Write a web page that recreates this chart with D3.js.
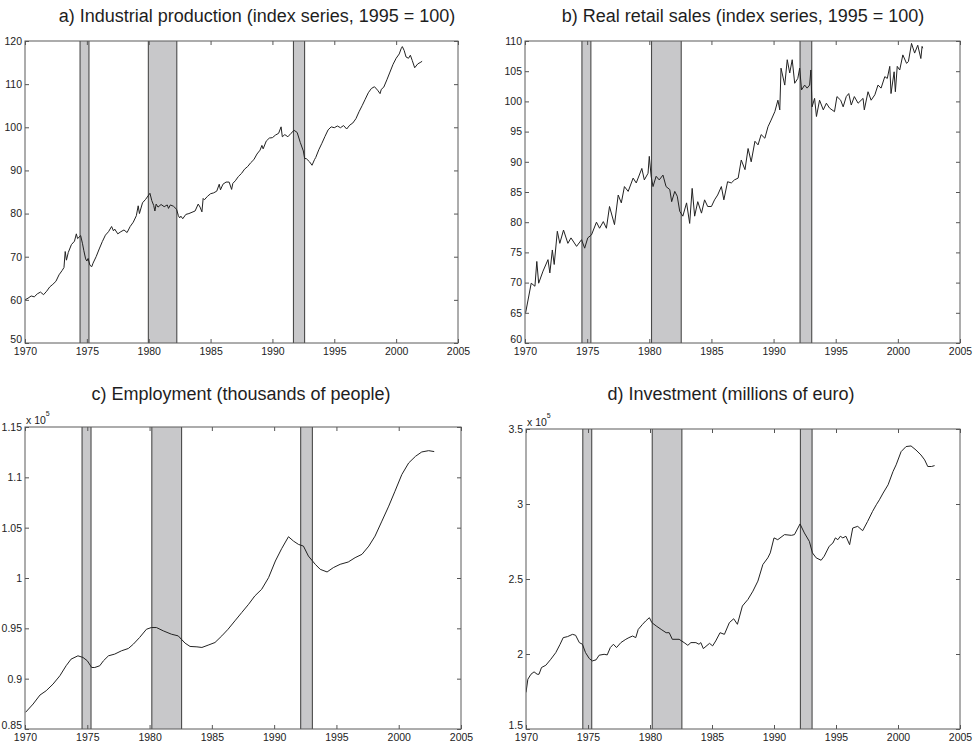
<!DOCTYPE html>
<html><head><meta charset="utf-8">
<script src="https://cdn.jsdelivr.net/npm/d3@7"></script>
<style>
body{margin:0;background:#fff;}
svg{display:block;font-family:"Liberation Sans",Arial,sans-serif;}
.tick text{font-size:10.5px;fill:#222;}
</style></head>
<body><svg id="c" width="976" height="746"></svg>
<script>
// ---------- data ----------
const xTicks = [1970,1975,1980,1985,1990,1995,2000,2005];
const yTicksA = [50,60,70,80,90,100,110,120];
const yTicksB = [60,65,70,75,80,85,90,95,100,105,110];
const yTicksC = [0.85,0.9,0.95,1,1.05,1.1,1.15];
const yTicksD = [1.5,2,2.5,3,3.5];

const bandsA = [[1974.45,1975.17],[1979.97,1982.27],[1991.7,1992.6]];
const bandsOther = [[1974.58,1975.3],[1980.18,1982.57],[1992.13,1993.07]];

const titles = ["a) Industrial production (index series, 1995 = 100)",
  "b) Real retail sales (index series, 1995 = 100)",
  "c) Employment (thousands of people)",
  "d) Investment (millions of euro)"];

const industrialProduction = [
[1970.00,60.0],[1970.25,60.4],[1970.50,60.9],[1970.75,60.7],[1971.00,61.4],[1971.25,61.8],[1971.50,61.2],[1971.75,62.0],
[1972.00,63.0],[1972.25,63.6],[1972.50,64.3],[1972.75,65.8],[1973.00,66.8],[1973.15,67.5],[1973.25,71.2],[1973.35,69.2],
[1973.50,71.0],[1973.75,72.8],[1974.00,73.6],[1974.15,75.3],[1974.25,74.2],[1974.50,74.9],[1974.65,73.0],[1974.75,71.5],
[1974.90,69.5],[1975.00,69.0],[1975.10,69.6],[1975.25,68.0],[1975.40,67.7],[1975.50,68.5],[1975.75,70.0],[1976.00,71.8],
[1976.25,73.5],[1976.50,75.0],[1976.75,75.8],[1977.00,77.0],[1977.15,76.0],[1977.25,76.4],[1977.50,75.3],[1977.75,75.8],
[1978.00,76.2],[1978.25,75.6],[1978.50,77.0],[1978.75,78.0],[1979.00,79.5],[1979.15,81.8],[1979.25,80.0],[1979.50,82.5],
[1979.75,83.3],[1980.00,84.3],[1980.10,84.7],[1980.25,83.0],[1980.40,81.9],[1980.50,80.6],[1980.60,82.2],[1980.75,81.5],
[1981.00,82.1],[1981.25,81.6],[1981.50,82.0],[1981.60,81.2],[1981.75,82.0],[1982.00,81.7],[1982.25,81.0],[1982.40,79.5],
[1982.50,79.0],[1982.60,79.4],[1982.75,78.8],[1983.00,79.8],[1983.25,80.0],[1983.50,80.3],[1983.75,80.6],[1984.00,82.2],
[1984.15,81.5],[1984.30,80.4],[1984.40,83.5],[1984.50,83.2],[1984.75,84.0],[1985.00,84.6],[1985.25,84.8],[1985.50,85.2],
[1985.70,86.8],[1985.80,85.5],[1986.00,86.8],[1986.25,87.3],[1986.50,87.3],[1986.70,85.6],[1986.80,87.0],[1987.00,87.6],
[1987.25,88.6],[1987.50,89.3],[1987.75,90.3],[1988.00,90.9],[1988.25,91.8],[1988.50,92.5],[1988.75,93.8],[1989.00,94.7],
[1989.15,95.8],[1989.25,95.0],[1989.50,96.8],[1989.75,97.5],[1990.00,97.6],[1990.25,98.2],[1990.50,98.6],[1990.70,100.1],
[1990.80,97.8],[1991.00,98.3],[1991.25,97.8],[1991.50,98.6],[1991.75,99.3],[1992.00,98.8],[1992.25,96.5],[1992.50,94.5],
[1992.60,92.8],[1992.75,92.7],[1993.00,92.0],[1993.20,91.2],[1993.40,92.5],[1993.50,93.0],[1993.75,94.8],[1994.00,96.3],
[1994.25,97.9],[1994.50,99.4],[1994.75,100.1],[1995.00,99.9],[1995.25,100.3],[1995.50,99.9],[1995.75,100.4],[1996.00,99.6],
[1996.25,100.5],[1996.50,101.0],[1996.75,102.0],[1997.00,103.6],[1997.25,105.0],[1997.50,106.5],[1997.75,108.0],[1998.00,109.0],
[1998.25,109.4],[1998.50,108.6],[1998.70,107.8],[1998.80,108.8],[1999.00,109.3],[1999.25,111.0],[1999.50,112.8],[1999.75,114.6],
[2000.00,116.0],[2000.25,117.0],[2000.40,118.2],[2000.50,118.7],[2000.65,117.8],[2000.80,116.3],[2001.00,116.0],[2001.15,116.7],
[2001.30,115.5],[2001.50,113.8],[2001.75,114.7],[2002.00,115.1],[2002.10,115.3]];

const retailSales = [
[1970.05,65.0],[1970.5,69.9],[1970.8,69.4],[1970.95,73.5],[1971.1,69.9],[1971.45,71.9],[1971.85,73.8],[1972.0,71.6],
[1972.2,75.4],[1972.35,73.0],[1972.6,78.5],[1972.8,76.5],[1973.1,78.7],[1973.45,76.5],[1973.7,77.4],[1974.15,76.0],
[1974.55,77.1],[1974.8,75.7],[1975.05,77.4],[1975.35,77.9],[1975.75,80.0],[1976.0,79.0],[1976.3,80.1],[1976.55,79.0],
[1976.8,82.6],[1977.2,79.6],[1977.5,84.5],[1977.75,83.2],[1978.0,85.9],[1978.3,85.1],[1978.7,87.3],[1978.95,86.5],
[1979.4,88.9],[1979.6,87.0],[1979.9,88.1],[1980.0,90.9],[1980.15,87.6],[1980.3,85.9],[1980.55,87.6],[1980.8,87.0],
[1981.1,87.8],[1981.35,85.9],[1981.65,85.4],[1981.8,83.4],[1982.05,85.1],[1982.25,84.3],[1982.45,81.8],[1982.7,81.0],
[1983.0,83.2],[1983.25,79.8],[1983.45,85.6],[1983.65,81.0],[1983.9,83.4],[1984.2,81.5],[1984.45,83.7],[1984.7,82.6],
[1985.0,82.6],[1985.25,83.7],[1985.5,84.5],[1985.8,85.9],[1986.0,83.7],[1986.3,86.7],[1986.6,86.5],[1986.85,87.0],
[1987.15,87.3],[1987.4,90.3],[1987.7,88.7],[1987.95,92.2],[1988.2,90.0],[1988.5,93.4],[1988.75,92.8],[1989.0,94.5],
[1989.3,93.9],[1989.55,95.8],[1989.8,96.9],[1990.1,98.3],[1990.35,100.2],[1990.5,98.6],[1990.6,105.5],[1990.9,102.7],
[1991.1,106.9],[1991.3,104.7],[1991.5,106.9],[1991.7,103.0],[1991.95,103.8],[1992.1,105.5],[1992.25,101.9],[1992.5,102.7],
[1992.7,102.2],[1992.9,102.7],[1993.0,105.2],[1993.1,99.1],[1993.3,100.5],[1993.45,97.5],[1993.7,100.2],[1994.0,98.6],
[1994.25,99.7],[1994.5,98.9],[1994.9,98.3],[1995.1,100.8],[1995.4,100.2],[1995.6,99.1],[1995.85,100.8],[1996.05,101.3],
[1996.25,99.4],[1996.5,100.8],[1996.8,99.7],[1997.2,100.5],[1997.3,98.6],[1997.6,101.6],[1997.85,100.2],[1998.15,101.1],
[1998.4,102.7],[1998.65,102.2],[1998.95,104.1],[1999.15,103.8],[1999.35,105.8],[1999.45,101.3],[1999.7,104.9],[1999.8,101.6],
[1999.95,105.8],[2000.15,105.2],[2000.4,107.7],[2000.7,106.3],[2000.85,106.6],[2001.1,109.6],[2001.35,108.0],[2001.6,109.3],
[2001.85,107.1],[2001.95,109.1],[2002.0,108.8]];

const employment = [
[1970.05,86660],[1970.65,87480],[1971.2,88370],[1971.7,88800],[1972.25,89460],[1972.8,90290],[1973.3,91280],[1973.7,91940],
[1974.25,92270],[1974.65,92110],[1975.0,91780],[1975.35,91110],[1975.6,91110],[1976.0,91280],[1976.3,91780],[1976.7,92270],
[1977.2,92440],[1977.75,92770],[1978.3,93000],[1978.7,93430],[1979.2,94090],[1979.75,94910],[1980.15,95080],[1980.55,95080],
[1981.1,94750],[1981.75,94420],[1982.3,94250],[1982.85,93530],[1983.25,93200],[1983.8,93160],[1984.2,93100],[1984.7,93330],
[1985.25,93590],[1985.8,94250],[1986.3,94910],[1986.85,95740],[1987.4,96570],[1987.95,97390],[1988.45,98220],[1989.0,98880],
[1989.55,100030],[1990.1,101690],[1990.6,102910],[1991.15,104100],[1991.55,103670],[1991.95,103340],[1992.35,103170],[1992.75,102180],
[1993.3,101360],[1993.7,100860],[1994.25,100600],[1994.75,101030],[1995.3,101360],[1995.95,101590],[1996.5,102020],[1997.05,102350],
[1997.6,103170],[1998.1,104160],[1998.65,105650],[1999.2,107140],[1999.7,108620],[2000.25,110280],[2000.8,111430],[2001.35,112090],
[2001.85,112520],[2002.4,112650],[2002.85,112560]];

const investment = [
[1970.0,174400],[1970.15,183200],[1970.4,186500],[1970.65,188100],[1970.9,186500],[1971.05,186500],[1971.25,191000],[1971.6,192500],
[1972.0,196500],[1972.4,200900],[1972.75,206500],[1973.0,210900],[1973.35,211600],[1973.75,213100],[1974.0,212500],[1974.3,207600],
[1974.55,206500],[1974.8,200900],[1975.1,197000],[1975.35,195400],[1975.65,196100],[1975.9,199200],[1976.3,199800],[1976.55,199400],
[1976.8,204300],[1977.05,206500],[1977.3,204300],[1977.65,207600],[1978.05,209800],[1978.3,210900],[1978.6,212000],[1978.85,210900],
[1979.05,216400],[1979.4,219800],[1979.65,222000],[1979.95,224200],[1980.15,220900],[1980.5,218700],[1980.9,216400],[1981.3,214200],
[1981.55,214200],[1981.8,209800],[1982.35,209800],[1982.75,207600],[1983.05,205800],[1983.3,207600],[1983.7,207600],[1983.95,206500],
[1984.1,207600],[1984.3,203600],[1984.8,207100],[1985.05,205400],[1985.3,208700],[1985.65,214200],[1986.0,213100],[1986.4,220900],
[1986.75,223500],[1987.05,219800],[1987.45,232000],[1987.9,236400],[1988.3,241900],[1988.7,248600],[1989.1,259600],[1989.5,264100],
[1989.7,267400],[1990.0,277400],[1990.3,276200],[1990.85,279600],[1991.4,279100],[1991.65,279600],[1992.1,286700],[1992.45,280700],
[1992.85,275100],[1993.1,267400],[1993.4,264100],[1993.8,262500],[1994.05,265200],[1994.45,271800],[1994.75,274000],[1994.95,277400],
[1995.15,276200],[1995.35,278500],[1995.55,277400],[1995.8,278500],[1996.1,272900],[1996.35,284000],[1996.75,285100],[1997.15,282200],
[1997.55,288400],[1997.95,295100],[1998.25,299500],[1998.5,302800],[1998.8,307300],[1999.2,312800],[1999.6,321700],[1999.85,326100],
[2000.25,334900],[2000.65,338300],[2001.05,338700],[2001.45,336000],[2001.85,332700],[2002.15,329400],[2002.4,325000],[2002.7,325000],
[2002.95,325600]];

// ---------- drawing ----------
const svg = d3.select("#c");
const panels = [
  {box:[25,458,41,343], series:industrialProduction, yDomain:[50,120], yTicks:yTicksA, bands:bandsA, scale:1, title:titles[0], tx:257, ty:22},
  {box:[525,960,41,343], series:retailSales, yDomain:[60,110], yTicks:yTicksB, bands:bandsOther, scale:1, title:titles[1], tx:743, ty:22},
  {box:[25,461,427,729], series:employment, yDomain:[0.85,1.15], yTicks:yTicksC, bands:bandsOther, scale:1e5, title:titles[2], tx:241, ty:400},
  {box:[526,960,429,729], series:investment, yDomain:[1.5,3.5], yTicks:yTicksD, bands:bandsOther, scale:1e5, title:titles[3], tx:731, ty:400}
];

panels.forEach((p,i)=>{
  const [x0,x1,y0,y1] = p.box;
  const x = d3.scaleLinear().domain([1970,2005]).range([x0,x1]);
  const y = d3.scaleLinear().domain(p.yDomain).range([y1,y0]);
  const g = svg.append("g");

  g.append("text").attr("x",p.tx).attr("y",p.ty).attr("text-anchor","middle")
    .attr("font-size","18px").attr("fill","#1e1e1e").text(p.title);

  g.append("rect").attr("x",x0).attr("y",y0).attr("width",x1-x0).attr("height",y1-y0).attr("fill","#fff");

  const cid = "clip"+i;
  g.append("clipPath").attr("id",cid).append("rect").attr("x",x0).attr("y",y0).attr("width",x1-x0).attr("height",y1-y0);

  const bg = g.append("g").attr("clip-path",`url(#${cid})`);
  bg.selectAll("rect.band").data(p.bands).join("rect").attr("class","band")
    .attr("x",d=>x(d[0])).attr("y",y0).attr("width",d=>x(d[1])-x(d[0])).attr("height",y1-y0)
    .attr("fill","#c8c8ca");
  p.bands.forEach(b=>{
    b.forEach(v=>{
      bg.append("line").attr("x1",x(v)).attr("x2",x(v)).attr("y1",y0).attr("y2",y1)
        .attr("stroke","#4a4a4a").attr("stroke-width",1.1);
    });
  });

  const line = d3.line().x(d=>x(d[0])).y(d=>y(d[1]/p.scale));
  bg.append("path").datum(p.series).attr("d",line).attr("fill","none")
    .attr("stroke","#222").attr("stroke-width",1).attr("stroke-linejoin","round");

  const fmt = d=>String(+d.toFixed(2));
  const tk = 4;
  const ax = [
    g.append("g").attr("transform",`translate(0,${y1})`).call(d3.axisBottom(x).tickValues(xTicks).tickSize(-tk).tickSizeOuter(0).tickPadding(5).tickFormat(d3.format("d"))),
    g.append("g").attr("transform",`translate(0,${y0})`).call(d3.axisTop(x).tickValues(xTicks).tickSize(-tk).tickSizeOuter(0).tickFormat("")),
    g.append("g").attr("transform",`translate(${x0},0)`).call(d3.axisLeft(y).tickValues(p.yTicks).tickSize(-tk).tickSizeOuter(0).tickPadding(3).tickFormat(fmt)),
    g.append("g").attr("transform",`translate(${x1},0)`).call(d3.axisRight(y).tickValues(p.yTicks).tickSize(-tk).tickSizeOuter(0).tickFormat(""))
  ];
  ax.forEach(a=>{
    a.select(".domain").remove();
    a.selectAll(".tick line").attr("stroke","#555");
    a.attr("font-family",null).attr("font-size",null);
  });
  // lowest y label sits just above the x labels, as in the reference
  ax[2].selectAll(".tick text").filter(d=>d===p.yDomain[0]).attr("dy","-0.05em");

  g.append("rect").attr("x",x0).attr("y",y0).attr("width",x1-x0).attr("height",y1-y0)
    .attr("fill","none").attr("stroke","#5a5a5a").attr("stroke-width",1);

  if (p.scale !== 1) {
    const e = g.append("text").attr("x",x0+1).attr("y",y0-3).attr("font-size","10.5px").attr("fill","#222");
    e.append("tspan").text("x 10");
    e.append("tspan").attr("dy",-8).attr("font-size","7px").text("5");
  }
});
</script></body></html>
